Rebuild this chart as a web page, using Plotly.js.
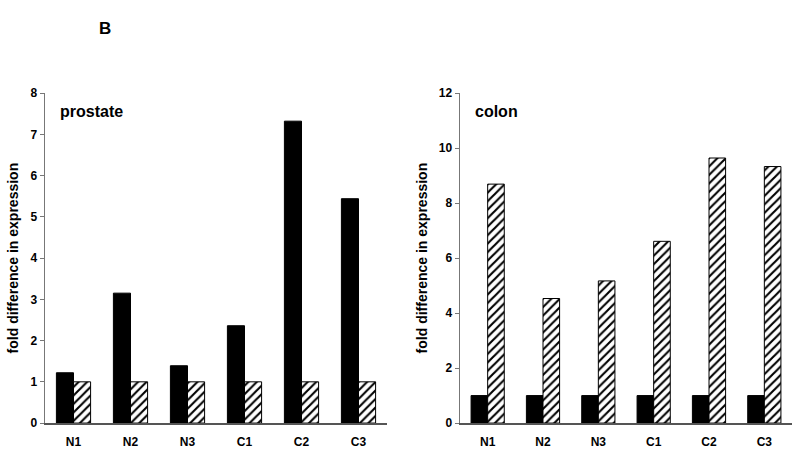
<!DOCTYPE html>
<html>
<head>
<meta charset="utf-8">
<script src="https://cdn.plot.ly/plotly-3.0.1.min.js"></script>
<style>
  body { margin: 0; background: #fff; }
  #chart { width: 800px; height: 452px; }
</style>
</head>
<body>
<div id="chart"></div>
<script>
// === Datos ===
const muestras = ['N1', 'N2', 'N3', 'C1', 'C2', 'C3'];
const prostataNegro = [1.22, 3.15, 1.39, 2.36, 7.32, 5.44];
const prostataRayado = [1.0, 1.0, 1.0, 1.0, 1.0, 1.0];
const colonNegro = [1.0, 1.0, 1.0, 1.0, 1.0, 1.0];
const colonRayado = [8.69, 4.53, 5.17, 6.61, 9.64, 9.33];
const ticksProstata = [0, 1, 2, 3, 4, 5, 6, 7, 8];
const ticksColon = [0, 2, 4, 6, 8, 10, 12];

const FUENTE = 'Liberation Sans, Arial, sans-serif';
const rayas = { shape: '/', fgcolor: '#000', bgcolor: '#fff', size: 6, solidity: 0.35 };

const barraNegra = (y, xa, ya) => ({
  type: 'bar', x: muestras, y: y, xaxis: xa, yaxis: ya,
  marker: { color: '#000', line: { color: '#000', width: 1 } },
  showlegend: false, hoverinfo: 'y'
});
const barraRayada = (y, xa, ya) => ({
  type: 'bar', x: muestras, y: y, xaxis: xa, yaxis: ya,
  marker: { color: '#fff', pattern: rayas, line: { color: '#000', width: 1 } },
  showlegend: false, hoverinfo: 'y'
});

const traces = [
  barraNegra(prostataNegro, 'x', 'y'),
  barraRayada(prostataRayado, 'x', 'y'),
  barraNegra(colonNegro, 'x2', 'y2'),
  barraRayada(colonRayado, 'x2', 'y2')
];

const ejeX = (dominio, ancla) => ({
  domain: dominio, anchor: ancla,
  showline: true, linecolor: '#555', linewidth: 1.5,
  ticks: '', ticklabelstandoff: 7, showgrid: false, zeroline: false,
  tickfont: { family: FUENTE, size: 12, color: '#000', weight: 'bold' },
  automargin: false
});
const ejeY = (ancla, rango, vals) => ({
  domain: [0.064, 0.794], anchor: ancla, range: rango,
  tickvals: vals, ticktext: vals.map(String),
  showline: true, linecolor: '#777', linewidth: 1.5,
  ticks: 'outside', ticklen: 4, tickcolor: '#777', tickwidth: 1,
  showgrid: false, zeroline: false,
  tickfont: { family: FUENTE, size: 12, color: '#000', weight: 'bold' },
  title: { text: 'fold difference in expression', standoff: 8,
           font: { family: FUENTE, size: 14, color: '#000', weight: 'bold' } },
  automargin: false
});

const layout = {
  width: 800, height: 452,
  margin: { l: 0, r: 0, t: 0, b: 0 },
  paper_bgcolor: '#fff', plot_bgcolor: '#fff',
  barmode: 'group', bargap: 0.4, bargroupgap: 0,
  xaxis: ejeX([0.05625, 0.48375], 'y'),
  yaxis: ejeY('x', [0, 8], ticksProstata),
  xaxis2: ejeX([0.575, 0.99], 'y2'),
  yaxis2: ejeY('x2', [0, 12], ticksColon),
  annotations: [
    { text: 'B', xref: 'paper', yref: 'paper', x: 97 / 800, y: 1 - 17 / 452,
      showarrow: false, font: { family: FUENTE, size: 17, color: '#000', weight: 'bold' } },
    { text: 'prostate', xref: 'paper', yref: 'paper', x: 58 / 800, y: 1 - 101 / 452,
      xanchor: 'left', showarrow: false,
      font: { family: FUENTE, size: 16, color: '#000', weight: 'bold' } },
    { text: 'colon', xref: 'paper', yref: 'paper', x: 473 / 800, y: 1 - 101 / 452,
      xanchor: 'left', showarrow: false,
      font: { family: FUENTE, size: 16, color: '#000', weight: 'bold' } }
  ]
};

Plotly.newPlot('chart', traces, layout, { staticPlot: true });
</script>
</body>
</html>
